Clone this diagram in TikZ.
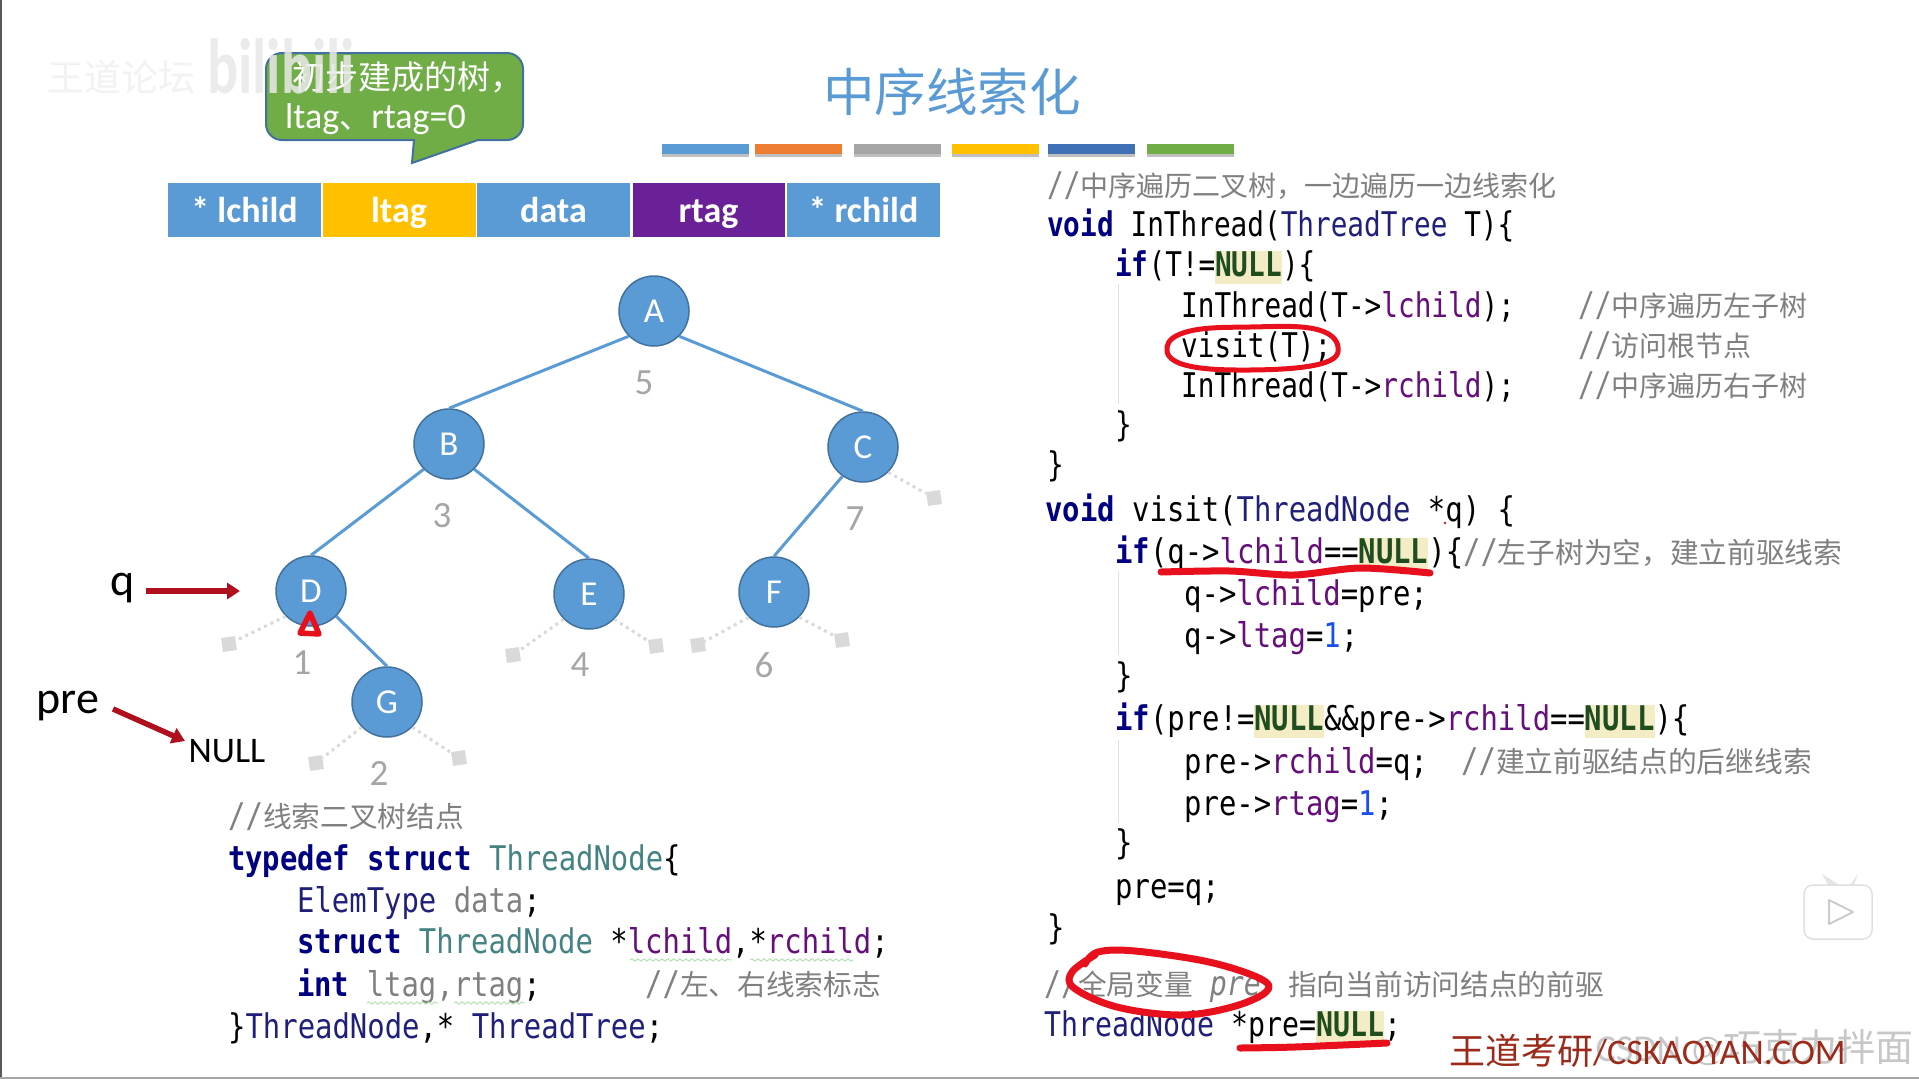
\documentclass[tikz,border=0pt]{standalone}
\usepackage{fontspec}
\setmainfont{Carlito}
\newfontfamily\cjkfam{Noto Sans CJK SC}
\newfontfamily\monofam[FakeStretch=.85]{DejaVu Sans Mono}
\newfontfamily\monofamA[FakeStretch=.815]{DejaVu Sans Mono}
\newfontfamily\monofamB[FakeStretch=.83]{DejaVu Sans Mono}
\usetikzlibrary{arrows.meta,decorations.pathmorphing}
\definecolor{bluefill}{HTML}{5B9BD5}
\definecolor{blueedge}{HTML}{41719C}
\definecolor{orangebar}{HTML}{ED7D31}
\definecolor{graybar}{HTML}{A5A5A5}
\definecolor{yellowbar}{HTML}{FFC000}
\definecolor{navybar}{HTML}{3F6FB5}
\definecolor{greenbar}{HTML}{70AD47}
\definecolor{purplebox}{HTML}{6A2097}
\definecolor{stubgray}{HTML}{D9D9D9}
\definecolor{numgray}{HTML}{A6A6A6}
\definecolor{arrowred}{HTML}{B00F1E}
\definecolor{inkred}{HTML}{E8101C}
\definecolor{kwcol}{HTML}{000080}
\definecolor{tealcol}{HTML}{458383}
\definecolor{typecol}{HTML}{20207A}
\definecolor{fieldcol}{HTML}{660E7A}
\definecolor{cmtcol}{HTML}{808080}
\definecolor{nullbg}{HTML}{F3ECC4}
\definecolor{nullfg}{HTML}{1F4D1F}
\definecolor{numblue}{HTML}{1750EB}
\definecolor{markdark}{HTML}{9C2A1A}
\newcommand\cjksize{28.7}
\newcommand\codefont{\monofam\fontsize{34}{40}\selectfont}
\newcommand\codefontA{\monofamA\fontsize{34}{40}\selectfont}
\newcommand\codefontB{\monofamB\fontsize{34}{40}\selectfont}
\newcommand\cjkcode{\cjkfam\fontsize{\cjksize}{40}\selectfont}
\newcommand\codeK[1]{\textcolor{kwcol}{\bfseries #1}}
\newcommand\codeT[1]{\textcolor{typecol}{#1}}
\newcommand\codeG[1]{\textcolor{tealcol}{#1}}
\newcommand\codeF[1]{\textcolor{fieldcol}{#1}}
\newcommand\codeN[1]{\textcolor{numblue}{#1}}
\newcommand\codeC[1]{\textcolor{cmtcol}{//{\cjkcode #1}}}
\newcommand\codeNull{{\setlength\fboxsep{0pt}\colorbox{nullbg}{\rule[-8pt]{0pt}{33pt}\textcolor{nullfg}{\bfseries NULL}}}}
\tikzset{
  x=1pt,y=-1pt,
  codeline/.style={anchor=base west,inner sep=0pt,font=\codefont,text=black,yshift=-2.4pt},
  codelineA/.style={codeline,font=\renewcommand\cjksize{28}\codefontA},
  codelineB/.style={codeline,font=\codefontB},
  fieldbox/.style={anchor=center,minimum height=54pt,inner sep=0pt,text=white,text height=26pt,text depth=0pt,font=\bfseries\fontsize{36}{38}\selectfont},
  treenode/.style={circle,minimum size=70pt,inner sep=0pt,fill=bluefill,draw=blueedge,line width=1.5pt,text=white,font=\fontsize{35}{36}\selectfont},
  treeedge/.style={draw=bluefill,line width=3pt},
  stubedge/.style={draw=stubgray,line width=3pt,dash pattern=on 3pt off 4pt},
  stubend/.style={rectangle,minimum size=14pt,inner sep=0pt,fill=stubgray,rotate=8},
  ordnum/.style={inner sep=0pt,text=numgray,font=\fontsize{37}{40}\selectfont},
  ptrarrow/.style={draw=arrowred,line width=5.5pt,-{Triangle[length=13pt,width=16pt]}},
  inkstroke/.style={draw=inkred,line cap=round,line join=round},
  wavy/.style={draw=green!45!gray!45,line width=.9pt,decorate,decoration={snake,amplitude=1.2pt,segment length=6pt}},
  guide/.style={draw=black!12,line width=1pt},
  colorbar/.style={inner sep=0pt,minimum width=87pt,minimum height=10pt,anchor=north west}
}
\begin{document}
\begin{tikzpicture}
\useasboundingbox (0,0) rectangle (1919,1079);
\fill[white] (0,0) rectangle (1919,1079);
\fill[black!65] (0,0) rectangle (2,1079);
\fill[black!35] (0,1077) rectangle (1919,1079);

% faint channel mark
\node[inner sep=0pt,text=black!5,font=\cjkfam\fontsize{37}{38}\selectfont] (wmA) at (121,77) {王道论坛};

% title and colour bars
\node[inner sep=0pt,text=bluefill,font=\cjkfam\fontsize{51.5}{54}\selectfont] (title) at (952,92) {中序线索化};
\foreach \nm/\xx/\cc in {ba/662/bluefill,bb/755/orangebar,bc/854/graybar,bd/952/yellowbar,be/1048/navybar,bf/1147/greenbar}{
  \fill[black!25] (\xx,148) rectangle ++(87,9);
  \node[colorbar,fill=\cc] (\nm) at (\xx,144) {};
}

% callout
\draw[fill=greenbar,draw=blueedge,line width=2pt]
  (282,53) -- (507,53) arc[start angle=-90,end angle=0,radius=16] -- (523,124)
  arc[start angle=0,end angle=90,radius=16] -- (478,140) -- (412,163) -- (414,140) -- (282,140)
  arc[start angle=90,end angle=180,radius=16] -- (266,69) arc[start angle=180,end angle=270,radius=16] -- cycle;
\node[anchor=west,inner sep=0pt,text=white,font=\cjkfam\fontsize{33}{36}\selectfont] (calloutA) at (292,77) {初步建成的树，};
\node[anchor=west,inner sep=0pt,text=white,font=\fontsize{36}{38}\selectfont] (calloutB) at (285,119) {ltag{\cjkfam\fontsize{32}{36}\selectfont 、}rtag=0};
\node[inner sep=0pt,text=black!9,opacity=.85,yscale=1.35,font=\bfseries\fontsize{58}{58}\selectfont] (wmB) at (281,66) {bilibili};

% field row
\node[fieldbox,minimum width=153pt,fill=bluefill] (f1) at (244.5,209.5) {* lchild};
\node[fieldbox,minimum width=153pt,fill=yellowbar] (f2) at (399,209.5) {ltag};
\node[fieldbox,minimum width=153pt,fill=bluefill] (f3) at (553.5,209.5) {data};
\node[fieldbox,minimum width=152pt,fill=purplebox] (f4) at (708.5,209.5) {rtag};
\node[fieldbox,minimum width=153pt,fill=bluefill] (f5) at (863.5,209.5) {* rchild};

% tree
\node[treenode] (A) at (654,311) {A};
\node[treenode] (B) at (449,444) {B};
\node[treenode] (C) at (863,447) {C};
\node[treenode] (D) at (311,591) {D};
\node[treenode] (E) at (589,594) {E};
\node[treenode] (F) at (774,592) {F};
\node[treenode] (G) at (387,702) {G};
\node[stubend] (sC) at (934,498) {};
\node[stubend] (sDl) at (229,644) {};
\node[stubend] (sEl) at (513,655) {};
\node[stubend] (sEr) at (656,646) {};
\node[stubend] (sFl) at (698,645) {};
\node[stubend] (sFr) at (842,640) {};
\node[stubend] (sGl) at (316,763) {};
\node[stubend] (sGr) at (459,758) {};
\draw[treeedge] (A.225) -- (B.north);
\draw[treeedge] (A.-45) -- (C.north);
\draw[treeedge] (B.225) -- (D.north);
\draw[treeedge] (B.-45) -- (E.north);
\draw[treeedge] (C.235) -- (F.north);
\draw[treeedge] (D.-45) -- (G.north);
\draw[stubedge] (C.-45) -- (sC);
\draw[stubedge] (D.225) -- (sDl);
\draw[stubedge] (E.225) -- (sEl);
\draw[stubedge] (E.-45) -- (sEr);
\draw[stubedge] (F.225) -- (sFl);
\draw[stubedge] (F.-45) -- (sFr);
\draw[stubedge] (G.225) -- (sGl);
\draw[stubedge] (G.-45) -- (sGr);
\node[ordnum] (n5) at (644,383) {5};
\node[ordnum] (n3) at (442,516) {3};
\node[ordnum] (n7) at (855,519) {7};
\node[ordnum] (n1) at (302,663) {1};
\node[ordnum] (n4) at (580,665) {4};
\node[ordnum] (n6) at (764,665) {6};
\node[ordnum] (n2) at (379,773) {2};

% pointers
\node[inner sep=0pt,font=\fontsize{46}{48}\selectfont] (qlab) at (123,588) {q};
\node[inner sep=0pt,font=\fontsize{46}{48}\selectfont] (prelab) at (68,706) {pre};
\node[inner sep=0pt,font=\fontsize{36}{38}\selectfont] (nulllab) at (227,751) {NULL};
\coordinate (qstart) at (146,591);
\coordinate (qend) at (240,591);
\coordinate (prestart) at (113,709);
\coordinate (preend) at (185,741);
\draw[ptrarrow] (qstart) -- (qend);
\draw[ptrarrow] (prestart) -- (preend);

% struct code
\node[codeline] (l1) at (228,825) {\codeC{线索二叉树结点}};
\node[codeline] (l2) at (228,868) {\codeK{typedef struct} \codeG{ThreadNode}\{};
\node[codeline] (l3) at (297,910) {\codeT{ElemType} \textcolor{black!50}{data};};
\node[codeline] (l4) at (297,951) {\codeK{struct} \codeG{ThreadNode} *\codeF{lchild},*\codeF{rchild};};
\node[codeline] (l5) at (297,994) {\codeK{int} \textcolor{black!50}{ltag,rtag};};
\node[codeline] (l5c) at (645,993) {\codeC{左、右线索标志}};
\node[codeline] (l6) at (228,1036) {\}\codeT{ThreadNode},* \codeT{ThreadTree};};
\draw[wavy] (630,960) -- (732,960);
\draw[wavy] (750,960) -- (853,960);
\draw[wavy] (367,1003) -- (438,1003);
\draw[wavy] (454,1003) -- (525,1003);

% right code, first function
\node[codelineA] (r1) at (1047,194) {\codeC{中序遍历二叉树，一边遍历一边线索化}};
\node[codelineA] (r2) at (1047,234) {\codeK{void} InThread(\codeT{ThreadTree} T)\{};
\node[codelineA] (r3) at (1115,274) {\codeK{if}(T!=\codeNull)\{};
\node[codelineA] (r4) at (1181,315) {InThread(T->\codeF{lchild});};
\node[codelineA] (r4c) at (1578,314) {\codeC{中序遍历左子树}};
\node[codelineA] (r5) at (1181,355) {visit(T);};
\node[codelineA] (r5c) at (1578,354) {\codeC{访问根节点}};
\node[codelineA] (r6) at (1181,395) {InThread(T->\codeF{rchild});};
\node[codelineA] (r6c) at (1578,394) {\codeC{中序遍历右子树}};
\node[codelineA] (r7) at (1115,434) {\}};
\node[codelineA] (r8) at (1047,474) {\}};
\draw[guide] (1118,284) -- (1118,404);

% right code, visit
\node[codeline] (v1) at (1045,519) {\codeK{void} visit(\codeT{ThreadNode} *q) \{};
\node[codeline] (v2) at (1115,561) {\codeK{if}(q->\codeF{lchild}==\codeNull)\{\codeC{左子树为空，建立前驱线索}};
\node[codeline] (v3) at (1184,603) {q->\codeF{lchild}=pre;};
\node[codeline] (v4) at (1184,645) {q->\codeF{ltag}=\codeN{1};};
\node[codeline] (v5) at (1115,685) {\}};
\node[codeline] (v6) at (1115,728) {\codeK{if}(pre!=\codeNull\&\&pre->\codeF{rchild}==\codeNull)\{};
\node[codeline] (v7) at (1184,771) {pre->\codeF{rchild}=q;};
\node[codeline] (v7c) at (1461,770) {\codeC{建立前驱结点的后继线索}};
\node[codeline] (v8) at (1184,813) {pre->\codeF{rtag}=\codeN{1};};
\node[codeline] (v9) at (1115,852) {\}};
\node[codeline] (v10) at (1115,896) {pre=q;};
\node[codeline] (v11) at (1047,937) {\}};
\draw[guide] (1118,571) -- (1118,655);
\draw[guide] (1118,740) -- (1118,823);

% globals
\node[codelineB] (g1) at (1044,993) {\textcolor{cmtcol}{//{\cjkcode 全局变量} {\itshape pre}}};
\node[codelineB] (g1c) at (1288,993) {\textcolor{cmtcol}{\cjkcode 指向当前访问结点的前驱}};
\node[codelineB] (g2) at (1044,1034) {\codeT{ThreadNode} *pre=\codeNull;};

% red pen
\draw[inkstroke,line width=5pt] plot[smooth cycle,tension=.7] coordinates {(1167,347) (1190,331) (1250,327) (1315,329) (1338,347) (1320,364) (1250,370) (1185,365)};
\draw[inkstroke,line width=7pt] plot[smooth,tension=.5] coordinates {(1161,572) (1230,571) (1294,575) (1360,568) (1430,573)};
\draw[inkstroke,line width=5.5pt] (310,613) -- (319,634) -- (300,633) -- cycle;
\draw[inkstroke,line width=7pt] plot[smooth,tension=.6] coordinates {(1085,964) (1098,952) (1135,951) (1209,962) (1261,979) (1266,992) (1232,1007) (1180,1015) (1117,1007) (1074,988) (1072,972) (1095,955)};
\draw[inkstroke,line width=7pt] plot[smooth,tension=.5] coordinates {(1240,1048) (1295,1047) (1387,1043)};
\fill[inkred] (1445,523) circle (1.3);

% bottom marks
\node[anchor=east,inner sep=0pt,text=black!22,font=\fontsize{38}{40}\selectfont] (mark2) at (1914,1048) {CSDN @{\cjkfam 巧克力拌面}};
\node[anchor=west,inner sep=0pt,text=markdark,font=\fontsize{36}{38}\selectfont] (mark1) at (1449,1051) {{\cjkfam 王道考研}/CSKAOYAN.COM};

% player mark
\fill[black!10] (1830,888) -- (1822,874) -- (1838,884) -- cycle (1848,888) -- (1858,874) -- (1852,890) -- cycle;
\draw[draw=black!12,fill=white,line width=1.5pt,rounded corners=9pt] (1804,885) rectangle (1872,939);
\draw[draw=black!20,fill=white,line width=2pt,line join=round] (1829,900) -- (1853,912) -- (1829,924) -- cycle;
\end{tikzpicture}
\end{document}
